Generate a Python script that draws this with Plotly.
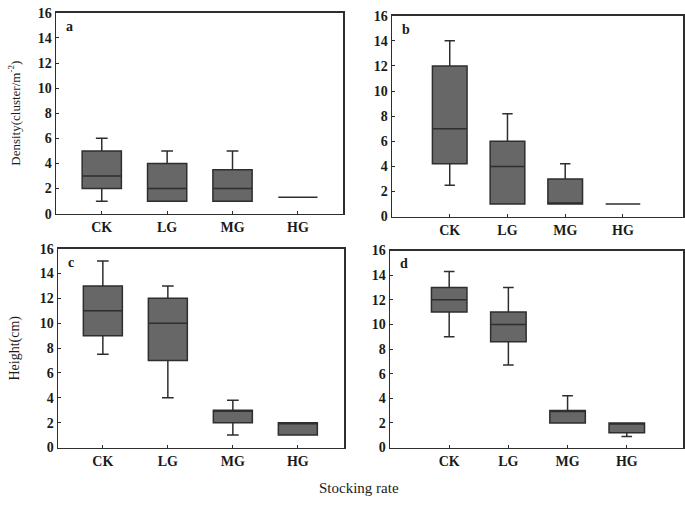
import plotly.graph_objects as go

categories = ["CK", "LG", "MG", "HG"]
y_ticks = [0, 2, 4, 6, 8, 10, 12, 14, 16]

# Panel a: Density
a_low = [1, 1, 1, 1.3]
a_q1 = [2, 1, 1, 1.3]
a_med = [3, 2, 2, 1.3]
a_q3 = [5, 4, 3.5, 1.3]
a_high = [6, 5, 5, 1.3]

# Panel b: Density
b_low = [2.5, 1, 1, 1]
b_q1 = [4.2, 1, 1, 1]
b_med = [7, 4, 1, 1]
b_q3 = [12, 6, 3, 1]
b_high = [14, 8.2, 4.2, 1]

# Panel c: Height
c_low = [7.5, 4, 1, 1]
c_q1 = [9, 7, 2, 1]
c_med = [11, 10, 3, 2]
c_q3 = [13, 12, 3, 2]
c_high = [15, 13, 3.8, 2]

# Panel d: Height
d_low = [9, 6.7, 2, 0.9]
d_q1 = [11, 8.6, 2, 1.2]
d_med = [12, 10, 3, 2]
d_q3 = [13, 11, 3, 2]
d_high = [14.3, 13, 4.2, 2]

panels = [
    ("a", a_low, a_q1, a_med, a_q3, a_high),
    ("b", b_low, b_q1, b_med, b_q3, b_high),
    ("c", c_low, c_q1, c_med, c_q3, c_high),
    ("d", d_low, d_q1, d_med, d_q3, d_high),
]

W, H = 685, 506
# pixel frames (left, top, right, bottom)
frames = {
    "a": (56, 6, 343, 213),
    "b": (392, 9, 683, 216),
    "c": (58, 249, 344, 454),
    "d": (390, 251, 683, 454),
}
xranges = {
    "a": [-0.70, 3.69],
    "b": [-1.0, 4.04],
    "c": [-0.69, 3.71],
    "d": [-1.0, 3.95],
}

FONT = "Liberation Serif"
LINE = "#2e2e2e"
FILL = "#676767"
TXT = "#1a1a1a"

fig = go.Figure()
layout = dict(
    width=W, height=H,
    margin=dict(l=0, r=0, t=0, b=0),
    paper_bgcolor="white", plot_bgcolor="white",
    showlegend=False,
    font=dict(family=FONT, size=14, color=TXT),
)
annotations = []
idx = 1
for name, lo, q1, med, q3, hi in panels:
    xa = "x" if idx == 1 else f"x{idx}"
    ya = "y" if idx == 1 else f"y{idx}"
    fig.add_trace(go.Box(
        x=[0, 1, 2, 3],
        lowerfence=lo, q1=q1, median=med, q3=q3, upperfence=hi,
        width=0.6, whiskerwidth=0.3,
        fillcolor=FILL, line=dict(color=LINE, width=1.5),
        xaxis=xa, yaxis=ya, hoverinfo="skip",
    ))
    l, t, r, b = frames[name]
    xkey = "xaxis" if idx == 1 else f"xaxis{idx}"
    ykey = "yaxis" if idx == 1 else f"yaxis{idx}"
    layout[xkey] = dict(
        domain=[l / W, r / W], anchor=ya, range=xranges[name],
        tickvals=[0, 1, 2, 3], ticktext=categories,
        showline=True, mirror=True, linecolor=LINE, linewidth=1.5,
        ticks="inside", ticklen=3, tickcolor=LINE, showgrid=False, zeroline=False,
        tickfont=dict(family=FONT, size=14, color=TXT, weight="bold"),
    )
    layout[ykey] = dict(
        domain=[1 - b / H, 1 - t / H], anchor=xa, range=[0, 16],
        tickvals=y_ticks,
        showline=True, mirror=True, linecolor=LINE, linewidth=1.5,
        ticks="inside", ticklen=3, tickcolor=LINE, showgrid=False, zeroline=False,
        tickfont=dict(family=FONT, size=14, color=TXT, weight="bold"),
    )
    annotations.append(dict(
        text=f"<b>{name}</b>", x=(l + 8) / W, y=1 - (t + 4) / H,
        xref="paper", yref="paper", xanchor="left", yanchor="top",
        showarrow=False, font=dict(family=FONT, size=14, color=TXT),
    ))
    idx += 1

annotations.append(dict(
    text="Density(cluster/m<sup>-2</sup>)", x=14 / W, y=1 - 110 / H,
    xref="paper", yref="paper", xanchor="center", yanchor="middle",
    textangle=-90, showarrow=False,
    font=dict(family=FONT, size=13, color=TXT),
))
annotations.append(dict(
    text="Height(cm)", x=15 / W, y=1 - 352 / H,
    xref="paper", yref="paper", xanchor="center", yanchor="middle",
    textangle=-90, showarrow=False,
    font=dict(family=FONT, size=14, color=TXT),
))
annotations.append(dict(
    text="Stocking rate", x=359 / W, y=1 - 496 / H,
    xref="paper", yref="paper", xanchor="center", yanchor="middle",
    showarrow=False,
    font=dict(family=FONT, size=15, color=TXT),
))
layout["annotations"] = annotations
fig.update_layout(**layout)
fig.write_html(
    "out.html",
    config={"displayModeBar": False, "staticPlot": True},
    post_script="document.body.style.margin='0';document.body.style.overflow='hidden';",
)
